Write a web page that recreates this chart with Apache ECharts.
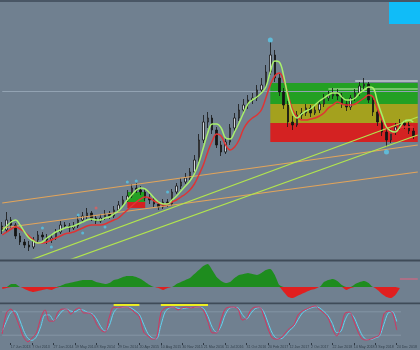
<!DOCTYPE html>
<html><head><meta charset="utf-8">
<script src="https://cdn.jsdelivr.net/npm/echarts/dist/echarts.min.js"></script>
<style>html,body{margin:0;padding:0;background:#708090;overflow:hidden}#c{width:420px;height:350px}</style>
</head><body><div id="c"></div>
<script>
// ---- data ----
const tickLabels = ['17 Jun 2013','7 Oct 2013','27 Jan 2014','19 May 2014','8 Sep 2014','29 Dec 2014','20 Apr 2015','10 Aug 2015','30 Nov 2015','21 Mar 2016','11 Jul 2016','31 Oct 2016','20 Feb 2017','12 Jun 2017','2 Oct 2017','22 Jan 2018','14 May 2018','3 Sep 2018','24 Dec 2018'];
const opens = [56.4,55.6,57.6,56.6,54.4,53.2,52.6,52.2,53.6,54.6, 54.2,53.6,54.0,55.2,56.6,56.4,56.0,56.4,57.6,58.4, 59.0,58.0,57.4,58.0,58.8,58.4,59.6,60.6,61.6,62.4, 64.0,63.6,63.2,62.0,61.6,60.8,60.2,61.2,60.8,63.2, 64.4,65.2,66.0,67.2,69.6,73.6,77.2,78.0,75.6,72.6, 71.2,73.2,76.0,78.0,79.6,80.6,81.6,82.0,83.6,84.6, 87.2,90.6,86.0,83.2,80.6,77.2,76.6,78.6,79.0,80.0, 79.0,79.6,80.8,82.0,82.4,83.0,82.4,80.8,80.2,82.0, 83.0,84.4,84.8,81.6,79.2,77.2,75.2,73.6,75.2,76.2, 77.0,76.6,75.4];
const closes = [55.6,57.6,56.6,54.4,53.2,52.6,52.2,53.6,54.6,54.2, 53.6,54.0,55.2,56.6,56.4,56.0,56.4,57.6,58.4,59.0, 58.0,57.4,58.0,58.8,58.4,59.6,60.6,61.6,62.4,64.0, 63.6,63.2,62.0,61.6,60.8,60.2,61.2,60.8,63.2,64.4, 65.2,66.0,67.2,69.6,73.6,77.2,78.0,75.6,72.6,71.2, 73.2,76.0,78.0,79.6,80.6,81.6,82.0,83.6,84.6,87.2, 90.6,86.0,83.2,80.6,77.2,76.6,78.6,79.0,80.0,79.0, 79.6,80.8,82.0,82.4,83.0,82.4,80.8,80.2,82.0,83.0, 84.4,84.8,81.6,79.2,77.2,75.2,73.6,75.2,76.2,77.0, 76.6,75.4,74.4];
const highs = [57.2,59.2,58.2,57.0,55.0,53.8,53.4,54.2,55.4,55.2, 54.8,54.6,55.8,57.4,57.2,57.0,57.2,58.4,59.2,60.0, 59.4,58.6,58.8,59.6,59.4,60.4,61.4,62.4,63.6,64.8, 65.0,64.4,63.8,62.8,62.2,61.4,61.8,61.8,63.8,65.0, 66.0,67.0,68.0,70.6,74.8,78.6,79.2,78.6,76.2,73.4, 74.0,76.8,79.0,80.8,81.8,82.6,83.0,84.6,86.0,88.6, 93.2,91.6,86.8,84.0,81.4,78.4,79.4,80.0,80.8,80.6, 80.4,81.6,82.8,83.4,84.0,83.8,83.0,81.6,82.6,83.8, 85.2,86.0,85.2,82.2,80.0,77.8,76.0,75.8,77.0,77.8, 77.6,77.2,76.0];
const lows = [54.8,55.2,56.0,53.8,52.6,52.0,51.4,51.8,53.2,53.6, 52.8,53.0,53.6,54.8,55.8,55.2,55.6,56.0,57.2,57.8, 57.4,56.8,57.0,57.6,57.8,58.0,59.2,60.2,61.2,62.0, 63.0,62.6,61.4,60.8,60.2,59.6,59.8,60.2,60.4,62.8, 63.8,64.8,65.6,66.8,69.2,73.0,76.0,74.8,72.0,70.4, 70.8,72.6,75.4,77.4,79.0,79.8,80.8,81.4,83.0,84.0, 86.6,85.2,82.4,79.8,76.2,75.6,76.2,77.8,78.4,78.2, 78.6,79.0,80.2,81.4,81.8,81.6,80.0,79.4,79.6,81.4, 82.4,83.8,81.0,78.4,76.4,74.4,72.2,73.0,74.6,75.6, 75.8,74.8,73.8];
const fastMA = [55.4,56.4,57.2,57.6,56.6,55.2,54.0,53.4,53.0,53.2, 54.0,54.6,55.2,55.6,56.0,56.2,56.4,56.8,57.2,57.6, 57.8,57.6,57.6,58.0,58.2,58.8,59.4,60.4,61.6,62.6, 63.6,64.0,63.8,63.0,62.0,61.2,60.8,60.8,61.6,62.4, 63.4,64.4,65.4,66.8,69.0,72.0,75.0,76.8,76.8,76.0, 74.0,73.8,75.2,77.0,79.0,80.8,81.6,82.2,83.0,84.2, 87.2,89.4,89.2,86.4,82.0,79.0,78.0,78.8,79.4,79.8, 80.6,81.4,82.0,82.6,83.0,83.0,82.2,81.6,81.6,82.0, 83.0,83.6,84.2,84.0,81.2,78.6,76.2,75.4,75.2,76.2, 77.4,77.6,77.2];
const slowMA = [54.6,55.2,55.8,56.2,55.8,55.2,54.4,53.6,53.0,53.0, 53.2,53.6,54.0,54.4,54.8,55.0,55.2,55.6,56.0,56.4, 56.6,56.6,56.6,56.8,57.2,57.6,58.0,58.8,59.6,60.4, 61.2,61.8,62.2,62.0,61.4,61.0,60.6,60.8,61.2,61.6, 62.2,62.8,63.6,64.8,66.6,68.6,71.2,73.4,74.8,74.4, 72.6,71.6,72.2,73.6,75.8,77.2,78.0,78.6,79.6,82.0, 84.6,86.4,87.0,85.6,82.6,79.6,78.2,77.6,77.6,77.8, 78.0,78.4,79.0,80.0,80.6,81.2,80.8,80.6,80.6,80.8, 81.4,82.0,82.6,82.2,79.8,77.6,76.0,75.0,75.4,76.0, 76.2,76.2,76.2];
const histValues = [-2,-1,3,3,0,-2,-4,-5,-4,-3, -2,-3,-1,1,3,4,5,6,7,7, 7,5,4,3,4,7,8,10,11,11, 10,8,5,2,0,-1,-3,-1,0,3, 5,7,9,13,17,21,23,17,10,6, 4,5,9,12,13,14,13,12,14,17, 18,12,2,-5,-10,-11,-9,-7,-5,-3, -2,0,5,7,8,6,2,-3,-1,3, 5,6,4,0,-3,-7,-10,-11,-8,-1, null,null,null];
const stochMain = [23,77,87,72,44,15,3,13,26,64, 85,56,56,79,87,87,74,85,90,77, 77,72,49,33,28,67,92,90,92,92, 87,77,67,28,18,10,13,77,90,92, 92,85,90,92,90,92,92,82,54,26, 26,59,87,92,92,87,59,64,85,92, 92,69,36,13,10,13,26,38,46,72, 82,87,92,95,85,77,64,36,18,41, 77,79,56,28,10,8,10,15,21,74, 82,77,33];
const stochSignal = [30,55,78,82,62,32,12,7,16,42, 72,72,58,68,82,87,82,80,86,84, 78,75,62,42,30,45,78,90,91,92, 90,83,73,48,24,13,11,45,80,90, 92,89,88,90,91,91,92,88,68,40, 27,42,72,89,91,90,73,62,76,88, 91,80,52,25,12,11,19,32,42,60, 77,85,90,93,90,81,70,50,27,30, 60,77,67,42,19,9,9,13,18,48, 77,80,55];
// trend lines: [barIndex, price] endpoints
const orangeUpper = [[0, 61.0], [93, 72.6]];
const orangeLower = [[0, 56.0], [93, 67.2]];
const greenUpper = [[0, 47.5], [93, 78.2]];
const greenLower = [[0, 44.8], [93, 74.6]];
// zones: [fromBar, toBar, topPrice, bottomPrice]
const zones = [[60, 93, 85.0, 80.8], [60, 93, 80.8, 77.0], [60, 93, 77.0, 73.2], [28, 32, 63.2, 61.2], [28, 32, 61.2, 60.0]];
const levelFull = [[0, 83.3], [93, 83.3]];
const levelWhite = [[79, 85.4], [93, 85.4]];
const levelPale = [[73, 83.8], [93, 83.8]];
const fractals = [[60, 93.6], [86, 71.2]];
const smallMarks = [[9, 56.0], [11, 52.2], [17, 58.6], [18, 55.0], [23, 56.2], [28, 65.2], [30, 65.4], [37, 63.2]];
const redMarks = [[21, 60.0]];
const yellowBars = [[26, 32, 100, 95], [37, 48, 100, 95]];
const histPink = [[89, 8], [93, 8]];
const stochLevels = [[[0, 80], [93, 80]], [[0, 20], [93, 20]]];

// ---- styles ----
const zoneColors = ['#23a023', '#a4a11e', '#d42222', '#23a023', '#d42222'];

// ---- chart ----
const N = 94;
const cats = Array.from({length: N}, (_, i) => String(i));
const isTick = i => i >= 2 && (i - 2) % 5 === 0;
const candles = opens.map((o, i) => [o, closes[i], lows[i], highs[i]]);
const histPos = histValues.map(v => v == null ? null : Math.max(v, 0));
const histNeg = histValues.map(v => v == null ? null : Math.min(v, 0));

const chart = echarts.init(document.getElementById('c'), null, {renderer: 'canvas'});
const gridBase = {left: -0.75, width: 423};
const xBase = {type: 'category', data: cats, boundaryGap: true, axisLine: {show: false}, axisTick: {show: false}, axisLabel: {show: false}, splitLine: {show: false}};
const yBase = {type: 'value', show: false, splitLine: {show: false}};
const lineS = (data, color, w, xi, extra) => Object.assign({type: 'line', data, xAxisIndex: xi, yAxisIndex: xi, symbol: 'none', silent: true, lineStyle: {color, width: w}, z: 3}, extra || {});
const rectSeries = (data, xi, colorFn, z) => ({
  type: 'custom', data, xAxisIndex: xi, yAxisIndex: xi, silent: true, z,
  encode: {x: [0, 1], y: [2, 3]},
  renderItem: (params, api) => {
    const p0 = api.coord([api.value(0), api.value(2)]);
    const p1 = api.coord([api.value(1), api.value(3)]);
    return {type: 'rect', shape: {x: p0[0], y: p0[1], width: p1[0] - p0[0], height: p1[1] - p0[1]}, style: {fill: colorFn(params.dataIndex)}};
  }
});

const series = [
  rectSeries(zones, 0, i => zoneColors[i], 1),
  lineS(levelFull, '#93a3b3', 1, 0, {z: 1.5}),
  lineS(levelWhite, '#e8ecef', 1.2, 0, {z: 1.5}),
  lineS(levelPale, '#c8e8b0', 1.2, 0, {z: 1.5}),
  {type: 'candlestick', data: candles, xAxisIndex: 0, yAxisIndex: 0, barWidth: 2, silent: true, z: 2,
    itemStyle: {color: '#cfd6dc', color0: '#151515', borderColor: '#151515', borderColor0: '#151515', borderWidth: 0.8}},
  lineS(orangeUpper, '#e3a45a', 1.2, 0),
  lineS(orangeLower, '#e3a45a', 1.2, 0),
  lineS(greenUpper, '#b2e54e', 1.2, 0),
  lineS(greenLower, '#b2e54e', 1.2, 0),
  lineS(slowMA, '#df3434', 1.5, 0, {smooth: 0.4, z: 4}),
  lineS(fastMA, '#a8f06c', 1.5, 0, {smooth: 0.4, z: 5}),
  {type: 'scatter', xAxisIndex: 0, yAxisIndex: 0, silent: true, z: 6, symbolSize: 5, data: fractals, itemStyle: {color: '#5cc8e8'}},
  {type: 'scatter', xAxisIndex: 0, yAxisIndex: 0, silent: true, z: 6, symbolSize: 3, data: smallMarks, itemStyle: {color: '#56c6e6'}},
  {type: 'scatter', xAxisIndex: 0, yAxisIndex: 0, silent: true, z: 6, symbolSize: 3, data: redMarks, itemStyle: {color: '#e06060'}},
  lineS(histPos, '#1e8c1e', 0, 1, {smooth: 0.2, areaStyle: {color: '#1e8c1e', opacity: 1}, z: 2}),
  lineS(histNeg, '#e01f1f', 0, 1, {smooth: 0.2, areaStyle: {color: '#e01f1f', opacity: 1}, z: 2}),
  lineS(histPink, '#e8607e', 1, 1),
  lineS(stochLevels[0], '#8494a4', 1, 2, {z: 1}),
  lineS(stochLevels[1], '#8494a4', 1, 2, {z: 1}),
  rectSeries(yellowBars, 2, () => '#eeee22', 5),
  lineS(stochSignal, '#62d2f0', 1, 2, {smooth: 0.3, z: 3}),
  lineS(stochMain, '#d6335f', 1, 2, {smooth: 0.3, z: 4})
];

chart.setOption({
  animation: false,
  backgroundColor: '#708090',
  grid: [
    Object.assign({top: 3, height: 255}, gridBase),
    Object.assign({top: 262, height: 40}, gridBase),
    Object.assign({top: 304, height: 39}, gridBase)
  ],
  xAxis: [
    Object.assign({gridIndex: 0}, xBase),
    Object.assign({gridIndex: 1}, xBase),
    Object.assign({}, xBase, {gridIndex: 2,
      axisTick: {show: true, interval: (i) => isTick(i), length: 2, alignWithLabel: true, lineStyle: {color: '#2e3843'}},
      axisLabel: {show: true, interval: (i) => isTick(i), hideOverlap: false, formatter: (v, i) => isTick(i) ? tickLabels[(i - 2) / 5] : '',
        color: '#33404c', fontSize: 3.6, fontFamily: 'Liberation Sans, Arial', align: 'left', margin: 1.8}})
  ],
  yAxis: [
    Object.assign({gridIndex: 0, min: 50, max: 101}, yBase),
    Object.assign({gridIndex: 1, min: -15, max: 25}, yBase),
    Object.assign({gridIndex: 2, min: 0, max: 100}, yBase)
  ],
  graphic: [
    {type: 'rect', shape: {x: 0, y: 0, width: 420, height: 2}, style: {fill: '#495665'}, silent: true},
    {type: 'rect', shape: {x: 0, y: 259.5, width: 420, height: 2}, style: {fill: '#3f4b58'}, silent: true},
    {type: 'rect', shape: {x: 0, y: 302.5, width: 420, height: 1.8}, style: {fill: '#3f4b58'}, silent: true},
    {type: 'rect', shape: {x: 389, y: 2, width: 31, height: 22}, style: {fill: '#10bcf8'}, silent: true}
  ],
  series
});
</script>
</body></html>
